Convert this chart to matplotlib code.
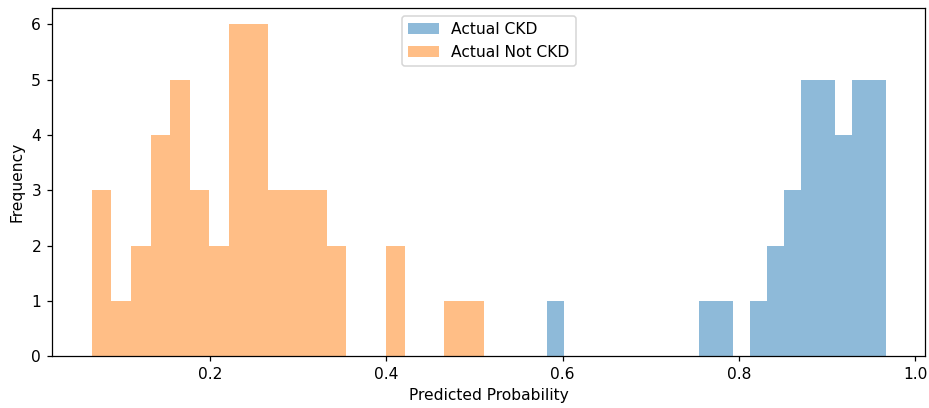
import numpy as np
import matplotlib
matplotlib.use('Agg')
import matplotlib.pyplot as plt

# predicted probability histograms, 20 bins each
ckd_range = (0.5825, 0.9664)
ckd_counts = [1, 0, 0, 0, 0, 0, 0, 0, 0, 1, 1, 0, 1, 2, 3, 5, 5, 4, 5, 5]

not_ckd_range = (0.066, 0.5105)
not_ckd_counts = [3, 1, 2, 4, 5, 3, 2, 6, 6, 3, 3, 3, 2, 0, 0, 2, 0, 0, 1, 1]


def hist_from_counts(ax, counts, value_range, label):
    edges = np.linspace(value_range[0], value_range[1], len(counts) + 1)
    centers = (edges[:-1] + edges[1:]) / 2
    ax.hist(centers, bins=edges, weights=counts, alpha=0.5, label=label)


dpi = 112
fig, ax = plt.subplots(figsize=(929 / dpi, 408 / dpi), dpi=dpi)
hist_from_counts(ax, ckd_counts, ckd_range, 'Actual CKD')
hist_from_counts(ax, not_ckd_counts, not_ckd_range, 'Actual Not CKD')
ax.set_xlabel('Predicted Probability')
ax.set_ylabel('Frequency')
ax.legend(loc='upper center')
plt.subplots_adjust(left=0.056, right=0.996, top=0.981, bottom=0.127)
plt.savefig('out.png', dpi=dpi)
